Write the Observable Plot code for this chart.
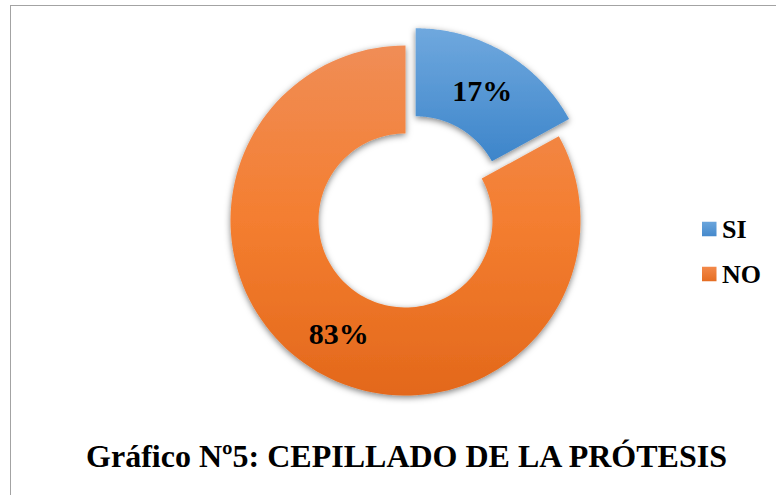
<!DOCTYPE html>
<html>
<head>
<meta charset="utf-8">
<script src="https://cdn.jsdelivr.net/npm/d3@7"></script>
<script src="https://cdn.jsdelivr.net/npm/@observablehq/plot@0.6"></script>
<style>
  html, body { margin: 0; padding: 0; background: #fff; }
  #wrap { position: relative; width: 776px; height: 495px; overflow: hidden; }
  #border { position: absolute; left: 10px; top: 5px; width: 800px; height: 600px; border-left: 1.5px solid #a3a3a3; border-top: 1.5px solid #a3a3a3; pointer-events: none; }
</style>
</head>
<body>
<div id="wrap"><div id="border"></div></div>
<script>
const categories = ["SI", "NO"];
const values = [17, 83];
const labels = ["17%", "83%"];
const title = "Gráfico Nº5: CEPILLADO DE LA PRÓTESIS";

const W = 776, H = 495;
const cx = 405, cy = 220, R = 175, r = 87;
const explode = { SI: 20, NO: 0 };
const gradId = { SI: "gSI", NO: "gNO" };

const pie = d3.pie().sort(null).value(d => d.value).startAngle(0).endAngle(2 * Math.PI);
const slices = pie(categories.map((c, i) => ({ cat: c, value: values[i], label: labels[i] })));

const pts = [];
const cents = [];
for (const s of slices) {
  const c = s.data.cat;
  const mid = (s.startAngle + s.endAngle) / 2;
  const ox = explode[c] * Math.sin(mid), oy = -explode[c] * Math.cos(mid);
  const n = 120;
  for (let k = 0; k <= n; k++) {
    const a = s.startAngle + (s.endAngle - s.startAngle) * k / n;
    pts.push({ cat: c, x: cx + ox + R * Math.sin(a), y: cy + oy - R * Math.cos(a) });
  }
  for (let k = n; k >= 0; k--) {
    const a = s.startAngle + (s.endAngle - s.startAngle) * k / n;
    pts.push({ cat: c, x: cx + ox + r * Math.sin(a), y: cy + oy - r * Math.cos(a) });
  }
  const rm = (R + r) / 2;
  cents.push({ cat: c, label: s.data.label, x: cx + ox + rm * Math.sin(mid), y: cy + oy - rm * Math.cos(mid) + 1 });
}

const legX = 702, legY0 = 229, legStep = 45, sq = 14.5;
const legend = categories.map((c, i) => ({ cat: c, y: legY0 + i * legStep }));

const serif = "Liberation Serif";

const marks = [];
for (const c of categories) {
  marks.push(Plot.line(pts.filter(d => d.cat === c), {
    x: "x", y: "y", curve: "linear-closed",
    fill: `url(#${gradId[c]})`, stroke: "none"
  }));
}
marks.push(Plot.text(cents, { x: "x", y: "y", text: "label", fontFamily: serif, fontWeight: "bold", fontSize: 30, fill: "#000" }));
for (const d of legend) {
  marks.push(Plot.rect([d], {
    x1: () => legX, x2: () => legX + sq, y1: dd => dd.y - sq / 2, y2: dd => dd.y + sq / 2,
    fill: `url(#${gradId[d.cat]}L)`
  }));
}
marks.push(Plot.text(legend, { x: () => legX + sq + 5, y: "y", text: "cat", textAnchor: "start", fontFamily: serif, fontWeight: "bold", fontSize: 26, fill: "#000" }));
marks.push(Plot.text([title], { x: () => 406, y: () => 456, text: d => d, fontFamily: serif, fontWeight: "bold", fontSize: 32, fill: "#000" }));

const chart = Plot.plot({
  width: W, height: H,
  margin: 0, marginTop: 0, marginRight: 0, marginBottom: 0, marginLeft: 0,
  x: { domain: [0, W], range: [0, W], axis: null },
  y: { domain: [0, H], range: [0, H], axis: null },
  style: { background: "transparent", overflow: "visible" },
  marks
});

const svg = d3.select(chart);
const defs = svg.insert("defs", ":first-child");
function grad(id, stops) {
  const g = defs.append("linearGradient").attr("id", id).attr("x1", 0).attr("y1", 0).attr("x2", 0).attr("y2", 1);
  for (const [o, c] of stops) g.append("stop").attr("offset", o).attr("stop-color", c);
}
grad("gSI", [["0%", "#6fa8de"], ["100%", "#3d85ca"]]);
grad("gNO", [["0%", "#f08d56"], ["50%", "#f47e30"], ["100%", "#e3681b"]]);
grad("gSIL", [["0%", "#6aa5dc"], ["100%", "#4589cc"]]);
grad("gNOL", [["0%", "#f3894a"], ["100%", "#e56d22"]]);
const f = defs.append("filter").attr("id", "shadow").attr("x", "-20%").attr("y", "-20%").attr("width", "140%").attr("height", "140%");
f.append("feDropShadow").attr("dx", 0).attr("dy", 2).attr("stdDeviation", 3).attr("flood-color", "#000").attr("flood-opacity", 0.5);
svg.selectAll("g[aria-label=line] path").attr("filter", "url(#shadow)");

chart.style.position = "absolute";
chart.style.left = "0px";
chart.style.top = "0px";
document.getElementById("wrap").appendChild(chart);
</script>
</body>
</html>
